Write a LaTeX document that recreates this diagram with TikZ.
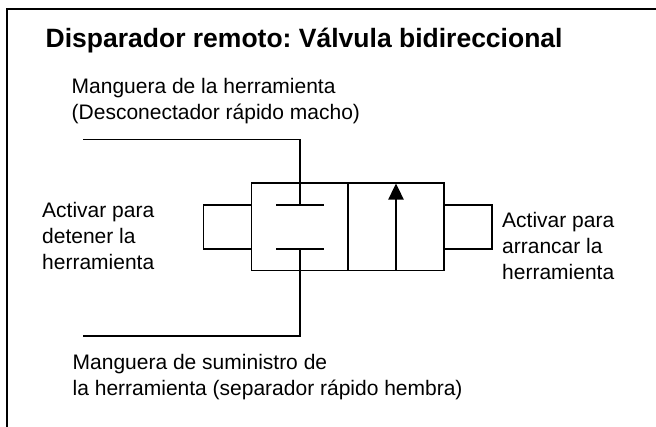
\documentclass[tikz,border=0pt]{standalone}
\usepackage{fontspec}
\setmainfont{Liberation Sans}
\usetikzlibrary{calc,arrows.meta,positioning}

\begin{document}
\begin{tikzpicture}[x=1pt,y=-1pt,>=stealth,inner sep=0pt]
      % Styles
      \tikzset{frame/.style={line width=2pt,line cap=rect},
               valve/.style={line width=1.5pt,line join=miter},
               hose/.style={line width=1.5pt},
               flow/.style={-{Triangle[length=16pt,width=15pt]},line width=2.4pt},
               headtext/.style={anchor=north west,font=\fontsize{26.5}{30}\selectfont\bfseries\frenchspacing},
               labeltext/.style={anchor=north west,align=left,font=\fontsize{21}{26}\selectfont\frenchspacing}}

      % Margins of the reference
      \useasboundingbox (0,0) rectangle (656,426);

      % Coordinates
      \coordinate (A) at (251.5,183);
      \coordinate (B) at (444,183);
      \coordinate (C) at (444,270.5);
      \coordinate (D) at (251.5,270.5);
      \coordinate (mid top) at (348,183);
      \coordinate (mid bot) at (348,270.5);
      \coordinate (up plate) at (300,205);
      \coordinate (low plate) at (300,249);

      % Outer frame (open to the right and at the bottom)
      \draw[frame] (7,426) -- (7,9) -- (656,9);

      % Valve body
      \draw[valve] (A) -- (B) -- (C) -- (D) -- cycle;
      \draw[valve] (mid top) -- (mid bot);

      % Actuators on both sides
      \draw[valve] (A |- up plate) -- (203.5,205) -- (203.5,249) -- (A |- low plate);
      \draw[valve] (B |- up plate) -- (492,205) -- (492,249) -- (B |- low plate);

      % Closed position, left cell
      \draw[valve] ($(up plate)+(-24,0)$) -- ($(up plate)+(24,0)$);
      \draw[valve] ($(low plate)+(-24,0)$) -- ($(low plate)+(24,0)$);

      % Open position, right cell
      \draw[flow] (396,270.5) -- (396,183.5);

      % Hoses
      \draw[hose] (83,139.5) -| (up plate);
      \draw[hose] (83,336) -| (low plate);

      % Texts
      \node[headtext] (head) at (45.5,28) {Disparador remoto: Válvula bidireccional};
      \node[labeltext] (tool hose) at (71.5,78.5) {Manguera de la herramienta\\(Desconectador rápido macho)};
      \node[labeltext] (stop) at (42,202.5) {Activar para\\detener la\\herramienta};
      \node[labeltext] (start) at (502,212.5) {Activar para\\arrancar la\\herramienta};
      \node[labeltext] (supply hose) at (72.5,354.5) {Manguera de suministro de\\la herramienta (separador rápido hembra)};
    \end{tikzpicture}
\end{document}
